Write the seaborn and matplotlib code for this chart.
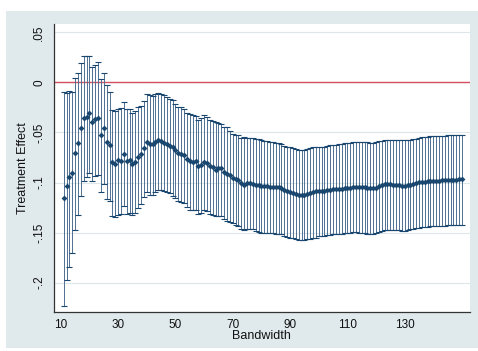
import numpy as np
import pandas as pd
import matplotlib
matplotlib.use('Agg')
import matplotlib.pyplot as plt
import seaborn as sns
from matplotlib.patches import Rectangle

# bandwidths estimated (one regression per integer bandwidth)
bandwidth = list(range(11, 151))

estimate = [
    -0.1150, -0.1030, -0.0947, -0.0903, -0.0707, -0.0607, -0.0457, -0.0357, -0.0350, -0.0307,
    -0.0400, -0.0367, -0.0357, -0.0530, -0.0457, -0.0596, -0.0625, -0.0800, -0.0812, -0.0776,
    -0.0785, -0.0716, -0.0790, -0.0776, -0.0815, -0.0792, -0.0749, -0.0719, -0.0660, -0.0594,
    -0.0611, -0.0611, -0.0594, -0.0578, -0.0587, -0.0601, -0.0611, -0.0634, -0.0650, -0.0677,
    -0.0710, -0.0719, -0.0726, -0.0769, -0.0790, -0.0792, -0.0785, -0.0835, -0.0825, -0.0792,
    -0.0809, -0.0835, -0.0848, -0.0875, -0.0858, -0.0858, -0.0891, -0.0914, -0.0924, -0.0957,
    -0.0967, -0.0974, -0.1007, -0.1023, -0.1000, -0.1007, -0.1010, -0.1023, -0.1023, -0.1030,
    -0.1033, -0.1033, -0.1040, -0.1046, -0.1046, -0.1040, -0.1056, -0.1073, -0.1083, -0.1096,
    -0.1106, -0.1116, -0.1122, -0.1122, -0.1122, -0.1116, -0.1106, -0.1096, -0.1089, -0.1089,
    -0.1089, -0.1083, -0.1079, -0.1073, -0.1066, -0.1066, -0.1063, -0.1060, -0.1056, -0.1053,
    -0.1050, -0.1046, -0.1043, -0.1040, -0.1043, -0.1046, -0.1053, -0.1056, -0.1053, -0.1050,
    -0.1036, -0.1026, -0.1017, -0.1017, -0.1017, -0.1020, -0.1023, -0.1026, -0.1030, -0.1030,
    -0.1026, -0.1020, -0.1013, -0.1003, -0.0997, -0.0993, -0.0990, -0.0987, -0.0983, -0.0983,
    -0.0980, -0.0980, -0.0977, -0.0977, -0.0974, -0.0974, -0.0970, -0.0970, -0.0967, -0.0967,
]

ci_low = [
    -0.2230, -0.1970, -0.1847, -0.1703, -0.1473, -0.1320, -0.1130, -0.0987, -0.0940, -0.0907,
    -0.0980, -0.0930, -0.0920, -0.1095, -0.1010, -0.1163, -0.1180, -0.1335, -0.1345, -0.1325,
    -0.1310, -0.1238, -0.1310, -0.1304, -0.1327, -0.1304, -0.1254, -0.1211, -0.1145, -0.1096,
    -0.1122, -0.1122, -0.1096, -0.1079, -0.1079, -0.1082, -0.1096, -0.1106, -0.1132, -0.1155,
    -0.1188, -0.1198, -0.1205, -0.1244, -0.1271, -0.1271, -0.1277, -0.1310, -0.1304, -0.1271,
    -0.1287, -0.1310, -0.1320, -0.1330, -0.1330, -0.1337, -0.1363, -0.1380, -0.1393, -0.1409,
    -0.1429, -0.1436, -0.1469, -0.1479, -0.1469, -0.1462, -0.1465, -0.1485, -0.1495, -0.1502,
    -0.1502, -0.1502, -0.1508, -0.1508, -0.1512, -0.1512, -0.1518, -0.1535, -0.1541, -0.1551,
    -0.1558, -0.1568, -0.1574, -0.1578, -0.1574, -0.1568, -0.1568, -0.1558, -0.1551, -0.1536,
    -0.1536, -0.1530, -0.1523, -0.1520, -0.1517, -0.1513, -0.1510, -0.1510, -0.1503, -0.1503,
    -0.1500, -0.1497, -0.1497, -0.1500, -0.1503, -0.1507, -0.1510, -0.1517, -0.1513, -0.1507,
    -0.1493, -0.1483, -0.1477, -0.1474, -0.1470, -0.1470, -0.1474, -0.1477, -0.1480, -0.1480,
    -0.1474, -0.1467, -0.1464, -0.1457, -0.1454, -0.1447, -0.1444, -0.1440, -0.1437, -0.1437,
    -0.1437, -0.1434, -0.1430, -0.1430, -0.1427, -0.1427, -0.1424, -0.1424, -0.1421, -0.1421,
]

ci_high = [
    -0.0097, -0.0103, -0.0090, -0.0097, 0.0043, 0.0093, 0.0193, 0.0265, 0.0265, 0.0265,
    0.0153, 0.0170, 0.0200, 0.0030, 0.0090, -0.0030, -0.0099, -0.0275, -0.0285, -0.0262,
    -0.0256, -0.0195, -0.0270, -0.0264, -0.0307, -0.0281, -0.0248, -0.0231, -0.0182, -0.0116,
    -0.0125, -0.0132, -0.0116, -0.0102, -0.0116, -0.0129, -0.0142, -0.0165, -0.0175, -0.0215,
    -0.0248, -0.0248, -0.0264, -0.0307, -0.0320, -0.0330, -0.0340, -0.0380, -0.0353, -0.0330,
    -0.0347, -0.0373, -0.0389, -0.0396, -0.0406, -0.0413, -0.0446, -0.0446, -0.0485, -0.0518,
    -0.0528, -0.0528, -0.0551, -0.0545, -0.0551, -0.0554, -0.0554, -0.0561, -0.0568, -0.0578,
    -0.0584, -0.0587, -0.0594, -0.0597, -0.0604, -0.0604, -0.0617, -0.0637, -0.0644, -0.0650,
    -0.0660, -0.0670, -0.0677, -0.0677, -0.0677, -0.0670, -0.0660, -0.0650, -0.0644, -0.0642,
    -0.0649, -0.0642, -0.0636, -0.0629, -0.0626, -0.0623, -0.0619, -0.0616, -0.0609, -0.0606,
    -0.0603, -0.0599, -0.0599, -0.0596, -0.0593, -0.0593, -0.0599, -0.0609, -0.0606, -0.0599,
    -0.0589, -0.0583, -0.0576, -0.0573, -0.0576, -0.0576, -0.0576, -0.0576, -0.0576, -0.0573,
    -0.0576, -0.0573, -0.0570, -0.0563, -0.0556, -0.0550, -0.0543, -0.0543, -0.0540, -0.0540,
    -0.0536, -0.0536, -0.0533, -0.0533, -0.0530, -0.0526, -0.0526, -0.0523, -0.0523, -0.0523,
]

x_ticks = [10, 30, 50, 70, 90, 110, 130]
y_ticks = [0.05, 0, -0.05, -0.1, -0.15, -0.2]
y_tick_labels = ['.05', '0', '-.05', '-.1', '-.15', '-.2']

df = pd.DataFrame({'bandwidth': bandwidth, 'estimate': estimate,
                   'ci_low': ci_low, 'ci_high': ci_high})

sns.set_theme(style='white')
plt.rcParams['font.family'] = ['Liberation Sans', 'DejaVu Sans']

navy = '#1a476f'

fig = plt.figure(figsize=(4.78, 3.51), dpi=100)
fig.patch.set_facecolor('white')
# stata-like graph region behind the axes
region = Rectangle((6 / 478, 3 / 351), 1, 337 / 351, transform=fig.transFigure,
                   facecolor='#e0eaed', edgecolor='none', zorder=-10)
fig.add_artist(region)

ax = fig.add_axes([0.1123, 0.112, 0.871, 0.8196])
ax.set_zorder(1)
ax.set_facecolor('white')

ax.axhline(0, color='#d5505f', lw=1.0, zorder=1)

yerr = [df['estimate'] - df['ci_low'], df['ci_high'] - df['estimate']]
eb = ax.errorbar(df['bandwidth'], df['estimate'], yerr=yerr, fmt='none',
                 ecolor=navy, elinewidth=0.7, capsize=2.2, capthick=0.8, zorder=2)
# stems read lighter than the caps in the original
for coll in eb[2]:
    coll.set_color('#4f6f92')

sns.scatterplot(data=df, x='bandwidth', y='estimate', marker='D', s=9,
                color=navy, edgecolor=navy, linewidth=0, ax=ax, zorder=3)

ax.set_xlim(7.5, 152.8)
ax.set_ylim(-0.229, 0.0583)
ax.set_xticks(x_ticks)
ax.set_xticklabels([str(t) for t in x_ticks])
ax.set_yticks(y_ticks)
ax.set_yticklabels(y_tick_labels, rotation=90, va='center')
ax.yaxis.grid(True, color='#dde7ea', lw=0.8, zorder=0)
ax.xaxis.grid(False)
ax.set_axisbelow(True)

for side in ['top', 'right']:
    ax.spines[side].set_visible(False)
for side in ['left', 'bottom']:
    ax.spines[side].set_color('#333333')
    ax.spines[side].set_linewidth(0.9)

ax.tick_params(axis='both', which='major', direction='out', length=3.5, width=0.8,
               color='#333333', labelsize=8.5, labelcolor='#111111', pad=2)
ax.tick_params(axis='y', pad=2.5)

ax.set_xlabel('Bandwidth', fontsize=9, color='#111111', labelpad=-1)
ax.set_ylabel('Treatment Effect', fontsize=9, color='#111111', labelpad=3)

fig.savefig('out.png', dpi=100)
